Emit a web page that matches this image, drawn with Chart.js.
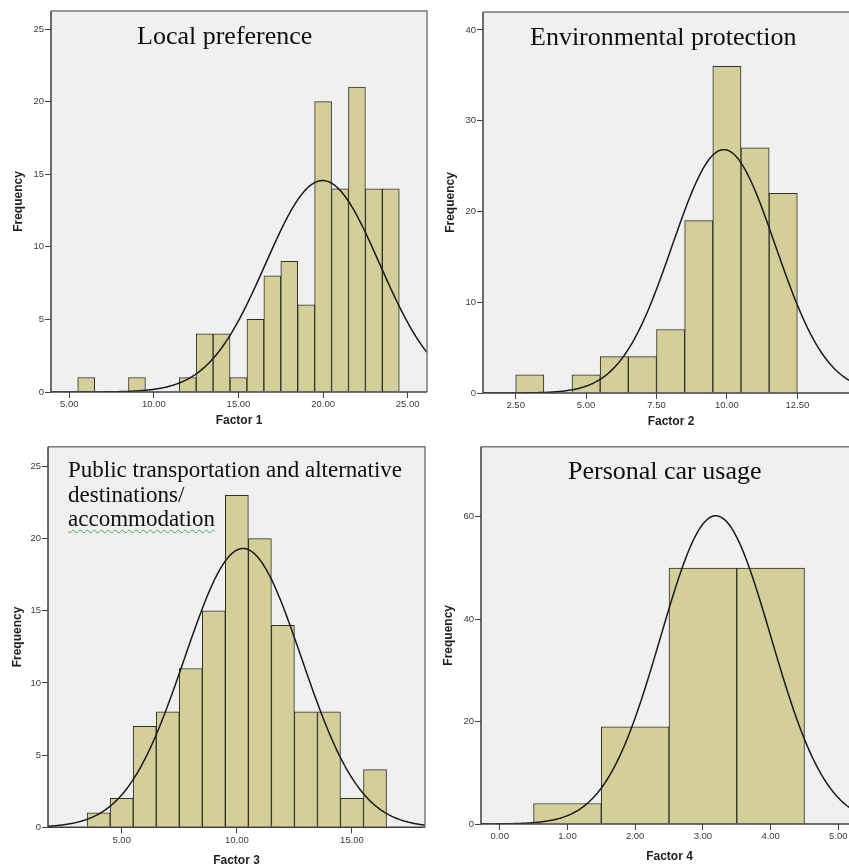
<!DOCTYPE html>
<html>
<head>
<meta charset="utf-8">
<title>Factor histograms</title>
<script src="https://cdn.jsdelivr.net/npm/chart.js@4.4.1/dist/chart.umd.min.js"></script>
<style>
  html, body { margin: 0; padding: 0; background: #fff; }
  body { position: relative; width: 849px; height: 867px; overflow: hidden; }
  .panel { position: absolute; }
  .title {
    position: absolute; white-space: nowrap; color: #0e0e12;
    font-family: 'Liberation Serif', 'Times New Roman', serif;
  }
  .big { font-size: 26px; line-height: 30px; }
  .mid { font-size: 23px; line-height: 24.5px; }
  .squiggle { text-decoration: underline wavy #3fae49; text-decoration-thickness: 1px; text-underline-offset: 3px; }
</style>
</head>
<body>
<div class="panel" id="p1" style="left:0;top:0;width:429px;height:440px"><canvas id="c1"></canvas></div>
<div class="panel" id="p2" style="left:435px;top:0;width:426px;height:440px"><canvas id="c2"></canvas></div>
<div class="panel" id="p3" style="left:0;top:440px;width:427px;height:440px"><canvas id="c3"></canvas></div>
<div class="panel" id="p4" style="left:435px;top:440px;width:425px;height:440px"><canvas id="c4"></canvas></div>

<div class="title big" style="left:137px;top:20.7px">Local preference</div>
<div class="title big" style="left:530px;top:21.7px">Environmental protection</div>
<div class="title mid" style="left:68px;top:458.3px">Public transportation and alternative<br>destinations/<br><span class="squiggle">accommodation</span></div>
<div class="title big" style="left:568px;top:455.5px">Personal car usage</div>

<script>
// bin centres (width 1) and frequencies
const f1Bins = [6, 9, 12, 13, 14, 15, 16, 17, 18, 19, 20, 21, 22, 23, 24];
const f1Counts = [1, 1, 1, 4, 4, 1, 5, 8, 9, 6, 20, 14, 21, 14, 14];
const f2Bins = [3, 5, 6, 7, 8, 9, 10, 11, 12];
const f2Counts = [2, 2, 4, 4, 7, 19, 36, 27, 22];
const f3Bins = [4, 5, 6, 7, 8, 9, 10, 11, 12, 13, 14, 15, 16];
const f3Counts = [1, 2, 7, 8, 11, 15, 23, 20, 14, 8, 8, 2, 4];
const f4Bins = [1, 2, 3, 4];
const f4Counts = [4, 19, 50, 50];

// normal curve parameters (peak position / height)
const sampleN = 123;
const f1Normal = [19.97, 3.37];
const f2Normal = [9.89, 1.83];
const f3Normal = [10.27, 2.54];
const f4Normal = [3.19, 0.815];

// tick labels
const f1XTicks = [5, 10, 15, 20, 25];
const f2XTicks = [2.5, 5, 7.5, 10, 12.5];
const f3XTicks = [5, 10, 15];
const f4XTicks = [0, 1, 2, 3, 4, 5];
const f1YTicks = [0, 5, 10, 15, 20, 25];
const f2YTicks = [0, 10, 20, 30, 40];
const f3YTicks = [0, 5, 10, 15, 20, 25];
const f4YTicks = [0, 20, 40, 60];

const tickFont = { family: "'Liberation Sans', Arial, sans-serif", size: 9.5 };
const axisFont = { family: "'Liberation Sans', Arial, sans-serif", size: 12, weight: 'bold' };

// plot background + SPSS style frame
const framePlugin = {
  id: 'frame',
  beforeDraw(chart) {
    const a = chart.chartArea, ctx = chart.ctx;
    ctx.save();
    ctx.fillStyle = '#f0f0f0';
    ctx.fillRect(a.left, a.top, a.right - a.left, a.bottom - a.top);
    ctx.restore();
  },
  afterDatasetsDraw(chart) {
    const a = chart.chartArea, ctx = chart.ctx;
    ctx.save();
    ctx.lineWidth = 1.5;
    ctx.strokeStyle = '#7a7a7a';
    ctx.beginPath();
    ctx.moveTo(a.left, a.top); ctx.lineTo(a.right, a.top); ctx.lineTo(a.right, a.bottom);
    ctx.stroke();
    ctx.strokeStyle = '#3e3e3e';
    ctx.beginPath();
    ctx.moveTo(a.left, a.top); ctx.lineTo(a.left, a.bottom); ctx.lineTo(a.right, a.bottom);
    ctx.stroke();
    ctx.restore();
  }
};

function normalCurve(params, xmin, xmax) {
  const [mu, sd] = params;
  const pts = [];
  const steps = 240;
  for (let i = 0; i <= steps; i++) {
    const x = xmin + (xmax - xmin) * i / steps;
    const z = (x - mu) / sd;
    pts.push({ x: x, y: sampleN * Math.exp(-0.5 * z * z) / (sd * Math.sqrt(2 * Math.PI)) });
  }
  return pts;
}

function histogram(id, p) {
  new Chart(document.getElementById(id), {
    type: 'bar',
    data: {
      datasets: [
        {
          type: 'line',
          data: normalCurve(p.normal, p.xmin, p.xmax),
          borderColor: '#1a1a1a',
          borderWidth: 1.5,
          pointRadius: 0,
          tension: 0,
          fill: false,
          order: 0
        },
        {
          type: 'bar',
          data: p.bins.map((b, i) => ({ x: b, y: p.counts[i] })),
          backgroundColor: '#d4cf98',
          borderColor: '#2f2e27',
          borderWidth: 1,
          barPercentage: 1,
          categoryPercentage: 1,
          order: 1
        }
      ]
    },
    options: {
      responsive: true,
      maintainAspectRatio: false,
      animation: false,
      devicePixelRatio: 1,
      events: [],
      layout: { padding: { top: p.padTop, right: 2, bottom: 0, left: 0 } },
      plugins: { legend: { display: false }, tooltip: { enabled: false } },
      scales: {
        x: {
          type: 'linear',
          min: p.xmin, max: p.xmax,
          offset: false, bounds: 'data',
          afterBuildTicks: s => { s.ticks = p.xTicks.map(v => ({ value: v })); },
          afterFit: s => { s.height = p.xH; },
          grid: { offset: false, drawOnChartArea: false, tickLength: 6, color: '#444' },
          border: { display: false },
          ticks: { padding: 1, color: '#3a3a3a', font: tickFont, maxRotation: 0, autoSkip: false,
                   callback: v => Number(v).toFixed(2) },
          title: { display: true, text: p.xTitle, color: '#1e1e1e', font: axisFont,
                   padding: { top: 0, bottom: p.xTitlePad } }
        },
        y: {
          min: 0, max: p.ymax,
          bounds: 'data',
          afterBuildTicks: s => { s.ticks = p.yTicks.map(v => ({ value: v })); },
          afterFit: s => { s.width = p.yW; },
          grid: { drawOnChartArea: false, tickLength: 6, color: '#444' },
          border: { display: false },
          ticks: { padding: 1, color: '#3a3a3a', font: tickFont, autoSkip: false },
          title: { display: true, text: 'Frequency', color: '#1e1e1e', font: axisFont,
                   padding: { top: p.yTitlePad, bottom: 0 } }
        }
      }
    },
    plugins: [framePlugin]
  });
}

histogram('c1', { bins: f1Bins, counts: f1Counts, normal: f1Normal, xTicks: f1XTicks, yTicks: f1YTicks,
  xmin: 3.92, xmax: 26.14, ymax: 26.24, xTitle: 'Factor 1',
  padTop: 11, yW: 51, xH: 48, yTitlePad: 11.8, xTitlePad: 12.1 });

histogram('c2', { bins: f2Bins, counts: f2Counts, normal: f2Normal, xTicks: f2XTicks, yTicks: f2YTicks,
  xmin: 1.339, xmax: 14.69, ymax: 41.98, xTitle: 'Factor 2',
  padTop: 12, yW: 48, xH: 47, yTitlePad: 8.8, xTitlePad: 11.1 });

histogram('c3', { bins: f3Bins, counts: f3Counts, normal: f3Normal, xTicks: f3XTicks, yTicks: f3YTicks,
  xmin: 1.8, xmax: 18.17, ymax: 26.37, xTitle: 'Factor 3',
  padTop: 6, yW: 48, xH: 52.7, yTitlePad: 10.1, xTitlePad: 12.1 });

histogram('c4', { bins: f4Bins, counts: f4Counts, normal: f4Normal, xTicks: f4XTicks, yTicks: f4YTicks,
  xmin: -0.276, xmax: 5.29, ymax: 73.7, xTitle: 'Factor 4',
  padTop: 3, yW: 46, xH: 56, yTitlePad: 6.8, xTitlePad: 16.1 });
</script>
</body>
</html>
